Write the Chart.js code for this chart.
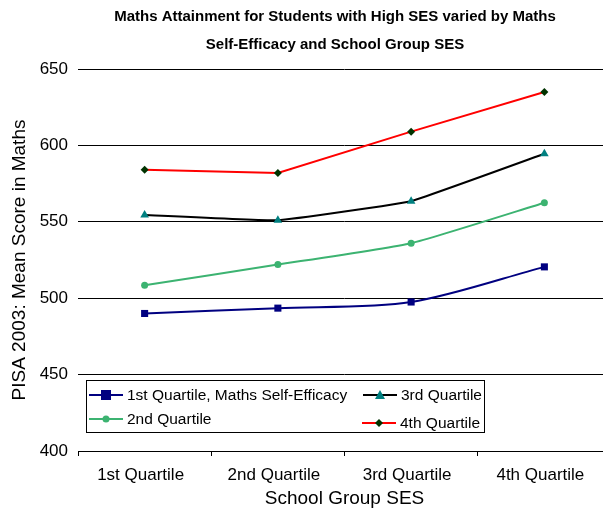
<!DOCTYPE html>
<html>
<head>
<meta charset="utf-8">
<script src="https://cdn.jsdelivr.net/npm/chart.js@4.4.1/dist/chart.umd.min.js"></script>
<style>
  html, body { margin: 0; padding: 0; background: #fff; overflow: hidden; }
  .chart-wrap { width: 620px; height: 512px; }
</style>
</head>
<body>
<div class="chart-wrap"><canvas id="chart"></canvas></div>
<script>
var FONT = "'Liberation Sans', Arial, Helvetica, sans-serif"

var titleLines = ['Maths Attainment for Students with High SES varied by Maths', 'Self-Efficacy and School Group SES']
var categories = ['1st Quartile', '2nd Quartile', '3rd Quartile', '4th Quartile']
var seriesNames = ['1st Quartile, Maths Self-Efficacy', '2nd Quartile', '3rd Quartile', '4th Quartile']
var firstQuartile = [490, 493.5, 497.5, 520.5]
var secondQuartile = [508.5, 522, 536, 562.5]
var thirdQuartile = [554.5, 551, 563.5, 594.5]
var fourthQuartile = [584, 582, 609, 635]
var yTicks = [400, 450, 500, 550, 600, 650]

function drawMarker(ctx, style, x, y, r, color) {
    ctx.save()
    ctx.fillStyle = color
    ctx.beginPath()
    if (style == 'rect') {
        ctx.rect(x - r, y - r, r * 2, r * 2)
    } else if (style == 'triangle') {
        ctx.moveTo(x, y - r)
        ctx.lineTo(x + r, y + r * 0.8)
        ctx.lineTo(x - r, y + r * 0.8)
        ctx.closePath()
    } else if (style == 'rectRot') {
        ctx.moveTo(x, y - r)
        ctx.lineTo(x + r, y)
        ctx.lineTo(x, y + r)
        ctx.lineTo(x - r, y)
        ctx.closePath()
    } else {
        ctx.arc(x, y, r, 0, Math.PI * 2)
    }
    ctx.fill()
    ctx.restore()
}

// title sits a little right of the canvas centre, like the original
var titlePlugin = {
    id: 'twoLineTitle',
    afterDraw: function (chart) {
        var ctx = chart.ctx
        ctx.save()
        ctx.fillStyle = '#000'
        ctx.font = 'bold 15px ' + FONT
        ctx.textAlign = 'center'
        ctx.textBaseline = 'middle'
        ctx.fillText(titleLines[0], 335, 17)
        ctx.fillText(titleLines[1], 335, 45)
        ctx.restore()
    }
}

// boxed legend inside the plot area, two columns
var legendSlots = [
    { lx: 89, tx: 127, y: 395 },
    { lx: 89, tx: 127, y: 419 },
    { lx: 363, tx: 401, y: 395 },
    { lx: 362, tx: 400, y: 423 }
]
var legendPlugin = {
    id: 'boxLegend',
    afterDatasetsDraw: function (chart) {
        var ctx = chart.ctx
        ctx.save()
        ctx.fillStyle = '#fff'
        ctx.fillRect(86, 380, 398, 53)
        ctx.strokeStyle = '#000'
        ctx.lineWidth = 1
        ctx.strokeRect(86.5, 380.5, 398, 52)
        ctx.font = '15.5px ' + FONT
        ctx.textBaseline = 'middle'
        chart.data.datasets.forEach(function (ds, i) {
            var s = legendSlots[i]
            ctx.strokeStyle = ds.borderColor
            ctx.lineWidth = 2
            ctx.beginPath()
            ctx.moveTo(s.lx, s.y)
            ctx.lineTo(s.lx + 34, s.y)
            ctx.stroke()
            drawMarker(ctx, ds.pointStyle, s.lx + 17, s.y, ds.pointRadius, ds.pointBackgroundColor)
            ctx.fillStyle = '#000'
            ctx.fillText(ds.label, s.tx, s.y + 1)
        })
        ctx.restore()
    }
}

function makeSet(label, data, line, marker, style, radius, tension) {
    return {
        label: label,
        data: data,
        borderColor: line,
        borderWidth: 2,
        backgroundColor: marker,
        pointBackgroundColor: marker,
        pointBorderColor: marker,
        pointBorderWidth: 0,
        pointStyle: style,
        pointRadius: radius,
        tension: tension,
        fill: false
    }
}

new Chart(document.getElementById('chart'), {
    type: 'line',
    data: {
        labels: categories,
        datasets: [
            makeSet(seriesNames[0], firstQuartile, '#000080', '#000080', 'rect', 5, 0.3),
            makeSet(seriesNames[1], secondQuartile, '#3CB371', '#3CB371', 'circle', 3.5, 0.15),
            makeSet(seriesNames[2], thirdQuartile, '#000000', '#008080', 'triangle', 5, 0.08),
            makeSet(seriesNames[3], fourthQuartile, '#FF0000', '#003300', 'rectRot', 4, 0)
        ]
    },
    options: {
        responsive: true,
        maintainAspectRatio: false,
        animation: false,
        layout: { padding: { top: 69, right: 9, left: 0, bottom: 0 } },
        plugins: {
            legend: { display: false },
            title: { display: false },
            tooltip: { enabled: false }
        },
        scales: {
            x: {
                offset: true,
                grid: { offset: true, drawOnChartArea: false, drawTicks: true, tickLength: 5, color: '#000' },
                border: { display: true, color: '#000', width: 1 },
                ticks: { color: '#000', font: { family: FONT, size: 17 }, padding: 9, labelOffset: -4, maxRotation: 0 },
                title: { display: true, text: 'School Group SES', color: '#000', font: { family: FONT, size: 19 }, padding: { top: 0, bottom: 2 } },
                afterFit: function (scale) { scale.height = 61 }
            },
            y: {
                min: 400,
                max: 650,
                afterBuildTicks: function (scale) {
                    scale.ticks = yTicks.map(function (v) { return { value: v } })
                },
                grid: { drawTicks: false, color: '#000', lineWidth: 1 },
                border: { display: false },
                ticks: { color: '#000', font: { family: FONT, size: 17 }, padding: 10 },
                title: { display: true, text: 'PISA 2003: Mean Score in Maths', color: '#000', font: { family: FONT, size: 19 }, padding: { top: 8, bottom: 0 } },
                afterFit: function (scale) { scale.width = 78 }
            }
        }
    },
    plugins: [titlePlugin, legendPlugin]
})
</script>
</body>
</html>
